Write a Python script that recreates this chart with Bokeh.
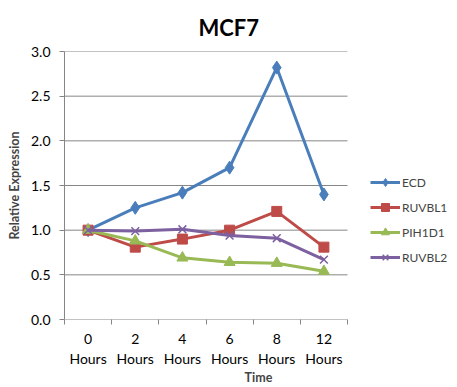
from bokeh.plotting import figure
from bokeh.models import Range1d, FixedTicker, Legend, LegendItem
from bokeh.embed import file_html
from bokeh.resources import INLINE

categories = ["0\nHours", "2\nHours", "4\nHours", "6\nHours", "8\nHours", "12\nHours"]
ecd = [1.00, 1.25, 1.42, 1.70, 2.82, 1.40]
ruvbl1 = [1.00, 0.81, 0.90, 1.00, 1.21, 0.81]
pih1d1 = [1.00, 0.88, 0.69, 0.64, 0.63, 0.54]
ruvbl2 = [1.00, 0.99, 1.01, 0.94, 0.91, 0.67]
y_ticks = [0.0, 0.5, 1.0, 1.5, 2.0, 2.5, 3.0]

n = len(categories)
xs = [i + 0.5 for i in range(n)]
FONT = "Lato"
GRAY = "#868686"

# frame extends to the right so the legend (drawn inside the frame) is not clipped;
# the plot area itself spans the first 283 px (categories 0..n)
W, H = 457, 387
LEFT, RIGHT, TOP, BOTTOM = 64, 5, 0, 66
PLOT_W = 283
x_end = n * (W - LEFT - RIGHT) / PLOT_W

p = figure(width=W, height=H, output_backend="svg", toolbar_location=None,
           x_range=Range1d(0, x_end), y_range=Range1d(0, 3),
           min_border_left=LEFT, min_border_right=RIGHT, min_border_top=TOP,
           min_border_bottom=BOTTOM)
p.outline_line_color = None

p.title.text = "MCF7"
p.title.align = "left"
p.title.offset = 134
p.title.standoff = 22
p.title.text_font = FONT
p.title.text_font_size = "22px"
p.title.text_font_style = "bold"
p.title.text_color = "#000000"

# horizontal gridlines only across the plot area
p.segment(x0=[0] * len(y_ticks), x1=[n] * len(y_ticks), y0=y_ticks, y1=y_ticks,
          line_color=GRAY, line_width=1)
p.xgrid.grid_line_color = None
p.ygrid.grid_line_color = None

# x axis
p.xaxis.ticker = FixedTicker(ticks=xs, minor_ticks=list(range(n + 1)))
p.xaxis.major_label_overrides = {x: c for x, c in zip(xs, categories)}
p.xaxis.major_tick_line_color = None
p.xaxis.minor_tick_line_color = GRAY
p.xaxis.minor_tick_in = 0
p.xaxis.minor_tick_out = 5
p.xaxis.axis_line_color = None
p.xaxis.major_label_standoff = 4
p.xaxis.major_label_text_font = FONT
p.xaxis.major_label_text_font_size = "14px"
p.xaxis.major_label_text_color = "#000000"
p.xaxis.axis_label = "Time"
p.xaxis.axis_label_text_font = FONT
p.xaxis.axis_label_text_font_size = "12.5px"
p.xaxis.axis_label_text_font_style = "bold"
p.xaxis.axis_label_standoff = 0

# y axis
p.yaxis.ticker = FixedTicker(ticks=y_ticks)
p.yaxis.major_label_overrides = {t: f"{t:.1f}" for t in y_ticks}
p.yaxis.axis_line_color = GRAY
p.yaxis.major_tick_line_color = GRAY
p.yaxis.major_tick_in = 0
p.yaxis.major_tick_out = 5
p.yaxis.minor_tick_line_color = None
p.yaxis.major_label_standoff = 9
p.yaxis.major_label_text_font = FONT
p.yaxis.major_label_text_font_size = "14px"
p.yaxis.major_label_text_color = "#000000"
p.yaxis.axis_label = "Relative Expression"
p.yaxis.axis_label_text_font = FONT
p.yaxis.axis_label_text_font_size = "12.5px"
p.yaxis.axis_label_text_font_style = "bold"
p.yaxis.axis_label_standoff = 6

series = [
    ("ECD", ecd, "#4A7EBB", "diamond", 13),
    ("RUVBL1", ruvbl1, "#BE4B48", "square", 10),
    ("PIH1D1", pih1d1, "#98B954", "triangle", 11),
    ("RUVBL2", ruvbl2, "#7D60A0", "x", 11),
]
items = []
for name, vals, color, marker, size in series:
    l = p.line(xs, vals, line_color=color, line_width=3)
    m = p.scatter(xs, vals, marker=marker, size=size, fill_color=color,
                  line_color=color, line_width=1.5 if marker == "x" else 1)
    items.append(LegendItem(label=name, renderers=[l, m]))

legend = Legend(items=items, location=(306, 52), glyph_width=30, glyph_height=20,
                label_height=20, spacing=5, padding=0, margin=0,
                label_text_font=FONT, label_text_font_size="12px",
                label_standoff=2, border_line_color=None, background_fill_alpha=0)
p.add_layout(legend, "center")

open("out.html", "w").write(file_html(p, INLINE))
